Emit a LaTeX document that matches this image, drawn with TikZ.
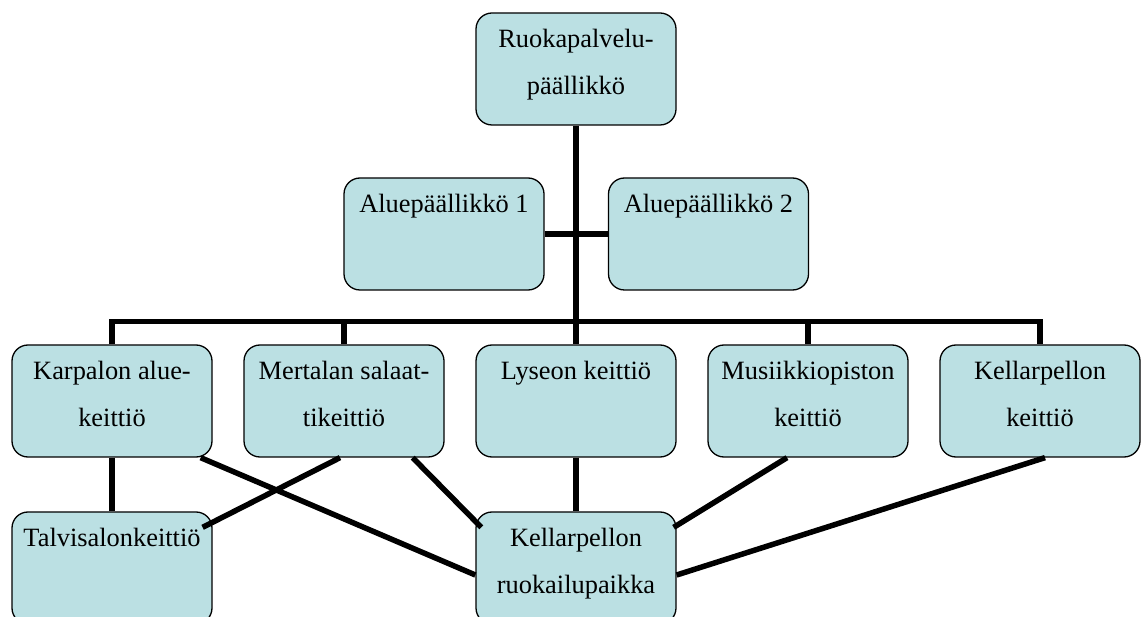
\documentclass[tikz,border=0pt]{standalone}
\usepackage{fontspec}
\setmainfont{Liberation Serif}
\usepackage{tikz}
\usepackage{xcolor}
\usetikzlibrary{positioning}

\definecolor{unitfill}{RGB}{187,224,227}

\begin{document}
\begin{tikzpicture}[x=1pt, y=-1pt, on grid, node distance=232pt,
    unit/.style={rectangle, rounded corners=16pt, draw, line width=1.3pt, fill=unitfill,
      minimum width=200pt, minimum height=112pt, inner xsep=5pt, inner ysep=16pt,
      font=\fontsize{26.4}{47}\selectfont,
      execute at begin node={\begin{minipage}[c][80pt][t]{190pt}\centering},
      execute at end node={\end{minipage}}},
    link/.style={line width=5.5pt}]

            \useasboundingbox (0,0) rectangle (1144,617);
            \clip (0,0) rectangle (1144,617);

            \node[unit] (chief) at (576,69) {Ruokapalvelu-\\päällikkö};
            \node[unit, below left=165pt and 132pt of chief] (area1) {Aluepäällikkö 1};
            \node[unit, below right=165pt and 132.5pt of chief] (area2) {Aluepäällikkö 2};

            \node[unit, below=332pt of chief] (lyseon) {Lyseon keittiö};
            \node[unit, left=of lyseon] (mertalan) {Mertalan salaat-\\tikeittiö};
            \node[unit, left=of mertalan] (karpalon) {Karpalon alue-\\keittiö};
            \node[unit, right=of lyseon] (musiikki) {Musiikkiopiston\\keittiö};
            \node[unit, right=of musiikki] (kellar) {Kellarpellon\\keittiö};

            \node[unit, below=167pt of karpalon] (talvisalo) {Talvisalonkeittiö};
            \node[unit, below=167pt of lyseon] (ruokailu) {Kellarpellon\\ruokailupaikka};

            \coordinate[above=23pt of lyseon.north] (bus);

            \draw[link] (chief) -- (lyseon);
            \draw[link] (area1) -- (area2);
            \draw[link] (karpalon.north) |- (bus) -| (kellar.north);
            \draw[link] (mertalan.north) |- (bus);
            \draw[link] (musiikki.north) |- (bus);

            \draw[link] (karpalon) -- (talvisalo);
            \draw[link] (lyseon) -- (ruokailu);
            \draw[link] ([xshift=-12pt]karpalon.south east) -- ([yshift=-7pt]ruokailu.west);
            \draw[link] ([xshift=-4pt]mertalan.south) -- ([xshift=-10pt,yshift=-16pt]talvisalo.north east);
            \draw[link] ([xshift=-32pt]mertalan.south east) -- ([xshift=6pt,yshift=-16pt]ruokailu.north west);
            \draw[link] ([xshift=-21pt]musiikki.south) -- ([xshift=-3pt,yshift=-16pt]ruokailu.north east);
            \draw[link] ([xshift=5pt]kellar.south) -- ([yshift=-7pt]ruokailu.east);

        \end{tikzpicture}
\end{document}
